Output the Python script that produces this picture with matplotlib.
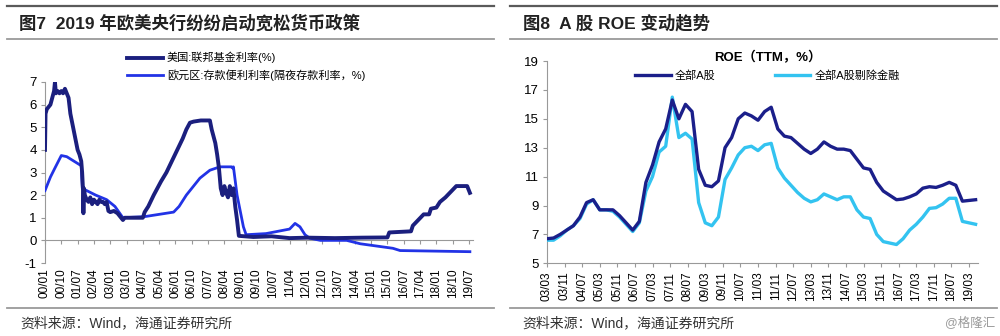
"""Two-panel figure: central bank policy rates (left) and A-share ROE trend (right)."""
import matplotlib
matplotlib.use('Agg')
import matplotlib.pyplot as plt
from matplotlib.lines import Line2D

plt.rcParams['font.family'] = ['Liberation Sans', 'Noto Sans CJK SC', 'DejaVu Sans']
plt.rcParams['axes.unicode_minus'] = False

# --- Left panel data (months since 2000/01) ---
us_month = [0, 0.3, 1, 2, 3, 4, 5, 5.5, 6, 7, 8, 9, 10, 11, 12, 13, 14, 15, 16, 17, 18, 19,
            20, 20.5, 21, 21.2, 21.5, 22, 23, 24, 25, 26, 27, 28, 29, 30, 31, 32, 33, 34,
            35, 36, 38, 40, 42, 43, 44, 48, 52, 54, 55, 57, 60, 62, 64, 67, 70, 73, 76,
            78, 80, 82, 86, 91, 92, 93, 94, 95, 96, 97, 98, 99, 100, 101, 102, 103, 104,
            105, 106, 107, 115, 125, 135, 145, 160, 175, 189, 190, 202, 203, 206, 209,
            212, 213, 216, 218, 221, 224, 227, 230, 233, 234.5]
us_rate = [4.0, 5.6, 5.8, 5.9, 6.0, 6.3, 6.6, 7.0, 6.5, 6.6, 6.5, 6.6, 6.5, 6.7, 6.5, 6.3,
           5.6, 5.2, 4.8, 4.4, 4.0, 3.8, 3.5, 3.0, 2.2, 1.2, 2.3, 2.0, 1.8, 1.7, 1.9, 1.6,
           1.8, 1.7, 1.6, 1.8, 1.7, 1.7, 1.6, 1.7, 1.3, 1.25, 1.3, 1.2, 1.0, 0.9, 1.0, 1.0,
           1.0, 1.0, 1.25, 1.5, 2.0, 2.3, 2.6, 3.0, 3.5, 4.0, 4.5, 4.9, 5.2, 5.25, 5.3,
           5.3, 4.9, 4.6, 4.3, 3.8, 3.2, 2.3, 2.0, 2.4, 2.1, 1.9, 2.4, 2.0, 2.3, 1.5, 0.9,
           0.2, 0.15, 0.18, 0.1, 0.12, 0.1, 0.12, 0.13, 0.35, 0.4, 0.65, 0.9, 1.15, 1.15,
           1.4, 1.45, 1.7, 1.9, 2.15, 2.4, 2.4, 2.4, 2.1]

eu_month = [0, 3, 5.5, 9, 12, 20, 20.6, 23, 28, 34, 38.6, 43, 55, 71, 74, 78, 82, 85.5, 91,
            96.5, 103, 103.5, 104, 106, 109.5, 111, 122, 135, 138, 140.7, 143.5, 146, 152,
            166.5, 174, 183, 192, 196, 234.5]
eu_rate = [2.2, 2.8, 3.2, 3.75, 3.7, 3.3, 2.3, 2.2, 2.0, 1.8, 1.5, 1.0, 1.05, 1.25, 1.5,
           2.0, 2.4, 2.75, 3.1, 3.25, 3.25, 3.2, 3.25, 2.0, 0.6, 0.25, 0.3, 0.5, 0.75, 0.6,
           0.25, 0.1, 0.0, 0.0, -0.15, -0.25, -0.35, -0.45, -0.5]

left_ticklabels = ['00/01', '00/10', '01/07', '02/04', '03/01', '03/10', '04/07', '05/04',
                   '06/01', '06/10', '07/07', '08/04', '09/01', '09/10', '10/07', '11/04',
                   '12/01', '12/10', '13/07', '14/04', '15/01', '15/10', '16/07', '17/04',
                   '18/01', '18/10', '19/07']

# --- Right panel data (quarterly, months since 2003/03) ---
roe_month = list(range(0, 196, 3))
roe_all = [6.7, 6.75, 7.0, 7.3, 7.6, 8.2, 9.2, 9.4, 8.7, 8.7, 8.7, 8.3, 7.8, 7.3, 7.9,
           10.6, 11.8, 13.4, 14.3, 16.3, 15.0, 16.0, 15.5, 11.5, 10.4, 10.3, 10.7, 13.0,
           13.7, 15.0, 15.4, 15.2, 14.9, 15.5, 15.8, 14.3, 13.8, 13.7, 13.3, 12.9, 12.6,
           12.9, 13.4, 13.1, 12.9, 12.9, 12.8, 12.2, 11.6, 11.5, 10.6, 10.0, 9.7, 9.4,
           9.45, 9.6, 9.8, 10.2, 10.3, 10.25, 10.4, 10.6, 10.4, 9.3, 9.35, 9.4]
roe_exfin = [6.6, 6.6, 6.9, 7.3, 7.6, 8.1, 9.1, 9.4, 8.7, 8.7, 8.6, 8.2, 7.7, 7.2, 7.8,
             10.0, 11.0, 12.7, 13.1, 16.5, 13.7, 14.0, 13.6, 9.2, 7.8, 7.6, 8.2, 10.8,
             11.6, 12.5, 13.0, 13.1, 12.8, 13.2, 13.3, 11.6, 10.9, 10.4, 9.9, 9.5, 9.25,
             9.4, 9.8, 9.6, 9.4, 9.6, 9.6, 8.7, 8.2, 8.1, 7.0, 6.5, 6.4, 6.3, 6.7, 7.3,
             7.7, 8.2, 8.8, 8.85, 9.1, 9.5, 9.5, 7.9, 7.8, 7.7]

right_ticklabels = ['03/03', '03/11', '04/07', '05/03', '05/11', '06/07', '07/03', '07/11',
                    '08/07', '09/03', '09/11', '10/07', '11/03', '11/11', '12/07', '13/03',
                    '13/11', '14/07', '15/03', '15/11', '16/07', '17/03', '17/11', '18/07',
                    '19/03']

W, H = 1000, 336
fig = plt.figure(figsize=(W / 100, H / 100), dpi=100)


def fx(px):
    return px / W


def fy(py):
    return 1 - py / H


def hline(x0, x1, y, color, lw):
    fig.add_artist(Line2D([fx(x0), fx(x1)], [fy(y), fy(y)], transform=fig.transFigure,
                          color=color, lw=lw))


# header / footer decoration
for x0, x1 in [(7, 494), (510, 997)]:
    hline(x0, x1, 6, '#5a5a5a', 1.6)
    hline(x0, x1, 39, '#9a9a9a', 1.3)
    hline(x0, x1, 308, '#9a9a9a', 1.3)

fig.text(fx(19), fy(23), '图7  2019 年欧美央行纷纷启动宽松货币政策', fontsize=12.5,
         fontweight='bold', va='center', ha='left', color='#222222')
fig.text(fx(523), fy(23), '图8  A 股 ROE 变动趋势', fontsize=12.5,
         fontweight='bold', va='center', ha='left', color='#222222')
for x in (20, 522):
    fig.text(fx(x), fy(323), '资料来源：Wind，海通证券研究所', fontsize=10,
             va='center', ha='left', color='#333333')
fig.text(fx(995), fy(323), '@格隆汇', fontsize=9, va='center', ha='right', color='#9a9a9a')

# --- Left panel ---
ax1 = fig.add_axes([fx(45), fy(263), fx(472.6) - fx(45), fy(82) - fy(263)])
ax1.plot(eu_month, eu_rate, color='#2233e6', lw=2.0, label='欧元区:存款便利利率(隔夜存款利率，%)',
         zorder=3)
ax1.plot(us_month, us_rate, color='#1b1f7e', lw=2.8, label='美国:联邦基金利率(%)', zorder=4)
ax1.set_xlim(0, 236)
ax1.set_ylim(-1, 7)
ax1.set_yticks(range(-1, 8))
ax1.set_xticks(range(0, 235, 9))
ax1.set_xticklabels(left_ticklabels, rotation=90, fontsize=8.5)
ax1.tick_params(axis='x', length=0, pad=4)
ax1.tick_params(axis='y', labelsize=9.5, length=3, color='#999999', pad=3)
for s in ('top', 'right', 'bottom'):
    ax1.spines[s].set_visible(False)
ax1.spines['left'].set_color('#999999')
zero_ax = ax1.secondary_xaxis(1 / 8)
zero_ax.set_xticks(range(0, 235, 9))
zero_ax.set_xticklabels([])
zero_ax.tick_params(length=3, color='#999999')
zero_ax.spines['bottom'].set_color('#999999')

h, l = ax1.get_legend_handles_labels()
ax1.legend(h[::-1], l[::-1], loc='upper left', bbox_to_anchor=(fx(127), fy(52)),
           bbox_transform=fig.transFigure, frameon=False, fontsize=8, handlelength=3.2,
           handletextpad=0.4, labelspacing=0.5, borderpad=0, borderaxespad=0)

# --- Right panel ---
ax2 = fig.add_axes([fx(547), fy(263.3), fx(977.8) - fx(547), fy(61) - fy(263.3)])
ax2.plot(roe_month, roe_exfin, color='#33c3f0', lw=2.4, label='全部A股剔除金融', zorder=3)
ax2.plot(roe_month, roe_all, color='#1b1f8a', lw=2.4, label='全部A股', zorder=4)
ax2.set_xlim(0, 196)
ax2.set_ylim(5, 19)
ax2.set_yticks(range(5, 20, 2))
ax2.set_xticks(range(0, 193, 8))
ax2.set_xticklabels(right_ticklabels, rotation=90, fontsize=8.5)
ax2.tick_params(axis='x', length=3, color='#999999', pad=3)
ax2.tick_params(axis='y', labelsize=9.5, length=3, color='#999999', pad=3)
for s in ('top', 'right'):
    ax2.spines[s].set_visible(False)
for s in ('left', 'bottom'):
    ax2.spines[s].set_color('#999999')

h, l = ax2.get_legend_handles_labels()
leg = ax2.legend(h[::-1], l[::-1], loc='upper left', bbox_to_anchor=(fx(635), fy(51)),
                 bbox_transform=fig.transFigure, frameon=False, fontsize=8, ncol=2,
                 handlelength=3.2, handletextpad=0.4, columnspacing=5.3, borderpad=0,
                 borderaxespad=0, title='ROE（TTM，%）',
                 title_fontproperties={'size': 9.5, 'weight': 'bold'})

plt.savefig('out.png', dpi=100)
